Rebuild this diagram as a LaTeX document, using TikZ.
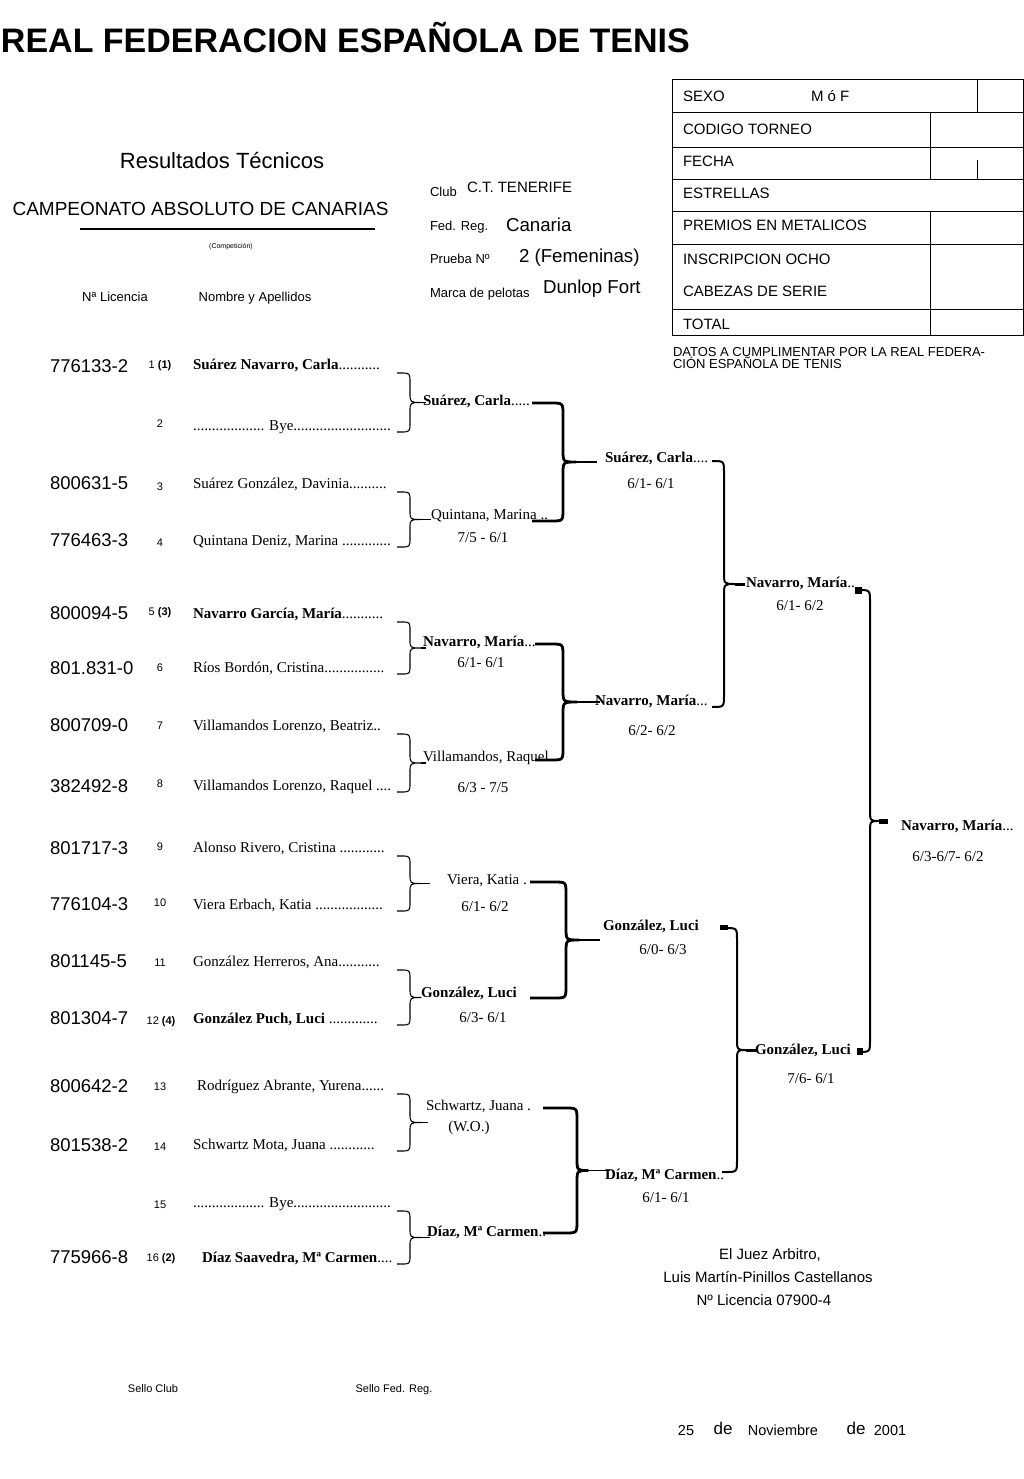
\documentclass[tikz,border=0pt]{standalone}
\usepackage{fontspec}
\setmainfont{Liberation Serif}
\newfontfamily\arial{Liberation Sans}
\newcommand\mybrace[7][]{%
\pgfmathsetmacro\mbm{(#5+#6)/2}%
\pgfmathsetmacro\mbc{min(12,(#6-#5)/6)}%
\draw[#1] (#2,#5) -- ({#3-\mbc},#5) .. controls (#3,#5) .. (#3,{#5+\mbc}) -- (#3,{\mbm-\mbc}) .. controls (#3,\mbm) .. (#4,\mbm) .. controls (#3,\mbm) .. (#3,{\mbm+\mbc}) -- (#3,{#6-\mbc}) .. controls (#3,#6) .. ({#3-\mbc},#6) -- (#2,#6);
\coordinate (#7) at (#4,\mbm);}
\tikzset{
 base/.style={inner sep=0pt, outer sep=0pt},
 sfL/.style={base, anchor=base west, font=\arial\fontsize{#1}{#1}\selectfont},
 sfC/.style={base, anchor=base, font=\arial\fontsize{#1}{#1}\selectfont},
 rmL/.style={base, anchor=base west, font=\fontsize{#1}{#1}\selectfont},
 rmC/.style={base, anchor=base, font=\fontsize{#1}{#1}\selectfont},
 brA/.style={line width=1.1pt, line join=round},
 brB/.style={line width=2.8pt, line join=round},
 brC/.style={line width=2pt, line join=round},
 tbl/.style={line width=1pt},
}
\begin{document}
\begin{tikzpicture}[x=1pt,y=-1pt]
\useasboundingbox[fill=white] (0,0) rectangle (1024,1479);
% title
\node[sfL=34, font=\arial\bfseries\fontsize{34}{34}\selectfont] (title) at (1,53) {REAL FEDERACION ESPAÑOLA DE TENIS};
% table
\draw[tbl] (672,80) rectangle (1023,335);
\foreach \yy in {113,148,180,212,245,309} \draw[tbl] (672,\yy) -- (1023,\yy);
\draw[tbl] (977,80) -- (977,113);
\draw[tbl] (930,113) -- (930,180);
\draw[tbl] (977,160) -- (977,180);
\draw[tbl] (930,212) -- (930,335);
\node[sfL=15] (t1) at (683,102) {SEXO};
\node[sfL=15] (t1b) at (811,102) {M ó F};
\node[sfL=15] (t2) at (683,135) {CODIGO TORNEO};
\node[sfL=15] (t3) at (683,167) {FECHA};
\node[sfL=15] (t4) at (683,199) {ESTRELLAS};
\node[sfL=15] (t5) at (683,231) {PREMIOS EN METALICOS};
\node[sfL=15] (t6) at (683,264) {INSCRIPCION OCHO};
\node[sfL=15] (t7) at (683,296) {CABEZAS DE SERIE};
\node[sfL=15] (t8) at (683,329) {TOTAL};
\node[sfL=13] (d1) at (673,356) {DATOS A CUMPLIMENTAR POR LA REAL FEDERA-};
\node[sfL=13] (d2) at (673,368.5) {CIÓN ESPAÑOLA DE TENIS};
% header left
\node[sfC=22] (res) at (222,169) {Resultados Técnicos};
\node[sfC=19] (camp) at (200.5,216) {CAMPEONATO ABSOLUTO DE CANARIAS};
\draw[line width=1.3pt] (80,229) -- (375,229);
\node[sfC=7] (comp) at (231,248.5) {(Competición)};
\node[sfC=13] (hl) at (115,301.5) {Nª Licencia};
\node[sfC=13] (hn) at (255,301.5) {Nombre y Apellidos};
% club block
\node[sfL=13] (c1) at (430,196.5) {Club};
\node[sfL=15] (c1v) at (467,193) {C.T. TENERIFE};
\node[sfL=13] (c2) at (430,230.5) {Fed. Reg.};
\node[sfL=18.7] (c2v) at (506,231.7) {Canaria};
\node[sfL=13] (c3) at (430,263.5) {Prueba Nº};
\node[sfL=18.7] (c3v) at (519,262.5) {2 (Femeninas)};
\node[sfL=13] (c4) at (430,297.5) {Marca de pelotas};
\node[sfL=18.7] (c4v) at (543,293.5) {Dunlop Fort};
% licences
\node[sfL=18.5] (l1) at (50,372.6) {776133-2};
\node[sfL=18.5] (l3) at (50,489.6) {800631-5};
\node[sfL=18.5] (l4) at (50,546.6) {776463-3};
\node[sfL=18.5] (l5) at (50,619.6) {800094-5};
\node[sfL=18.5] (l6) at (50,674.6) {801.831-0};
\node[sfL=18.5] (l7) at (50,731.6) {800709-0};
\node[sfL=18.5] (l8) at (50,792.6) {382492-8};
\node[sfL=18.5] (l9) at (50,854.6) {801717-3};
\node[sfL=18.5] (l10) at (50,910.6) {776104-3};
\node[sfL=18.5] (l11) at (50,967.6) {801145-5};
\node[sfL=18.5] (l12) at (50,1024.6) {801304-7};
\node[sfL=18.5] (l13) at (50,1092.6) {800642-2};
\node[sfL=18.5] (l14) at (50,1151.6) {801538-2};
\node[sfL=18.5] (l16) at (50,1263.6) {775966-8};
% seeds
\node[sfC=11] (s1n) at (160,368) {1 \textbf{(1)}};
\node[sfC=11] (s2n) at (160,427) {2};
\node[sfC=11] (s3n) at (160,490) {3};
\node[sfC=11] (s4n) at (160,546) {4};
\node[sfC=11] (s5n) at (160,615) {5 \textbf{(3)}};
\node[sfC=11] (s6n) at (160,671) {6};
\node[sfC=11] (s7n) at (160,729) {7};
\node[sfC=11] (s8n) at (160,787) {8};
\node[sfC=11] (s9n) at (160,850) {9};
\node[sfC=11] (s10n) at (160,906) {10};
\node[sfC=11] (s11n) at (160,966) {11};
\node[sfC=11] (s12n) at (161,1024) {12 \textbf{(4)}};
\node[sfC=11] (s13n) at (160,1090) {13};
\node[sfC=11] (s14n) at (160,1150) {14};
\node[sfC=11] (s15n) at (160,1208) {15};
\node[sfC=11] (s16n) at (161,1261) {16 \textbf{(2)}};
% names
\node[rmL=15] (n1) at (193,369) {\textbf{Suárez Navarro, Carla}...........};
\node[rmL=15] (n2) at (193,430) {................... Bye..........................};
\node[rmL=15] (n3) at (193,488) {Suárez González, Davinia..........};
\node[rmL=15] (n4) at (193,545) {Quintana Deniz, Marina .............};
\node[rmL=15] (n5) at (193,618) {\textbf{Navarro García, María}...........};
\node[rmL=15] (n6) at (193,672) {Ríos Bordón, Cristina................};
\node[rmL=15] (n7) at (193,730) {Villamandos Lorenzo, Beatriz..};
\node[rmL=15] (n8) at (193,790) {Villamandos Lorenzo, Raquel ....};
\node[rmL=15] (n9) at (193,852) {Alonso Rivero, Cristina ............};
\node[rmL=15] (n10) at (193,909) {Viera Erbach, Katia ..................};
\node[rmL=15] (n11) at (193,966) {González Herreros, Ana...........};
\node[rmL=15] (n12) at (193,1023) {\textbf{González Puch, Luci} .............};
\node[rmL=15] (n13) at (197,1090) {Rodríguez Abrante, Yurena......};
\node[rmL=15] (n14) at (193,1149) {Schwartz Mota, Juana ............};
\node[rmL=15] (n15) at (193,1207) {................... Bye..........................};
\node[rmL=15] (n16) at (202,1262) {\textbf{Díaz Saavedra, Mª Carmen}....};
% round 2 winners
\node[rmL=15] (w1) at (423,405) {\textbf{Suárez, Carla}.....};
\node[rmL=15] (w2) at (431,519) {Quintana, Marina ..};
\node[rmL=15] (w3) at (423,646) {\textbf{Navarro, María}...};
\node[rmL=15] (w4) at (423,761) {Villamandos, Raquel};
\node[rmL=15] (w5) at (447,884) {Viera, Katia .};
\node[rmL=15] (w6) at (421,997) {\textbf{González, Luci}};
\node[rmL=15] (w7) at (426,1110) {Schwartz, Juana .};
\node[rmL=15] (w8) at (427,1236) {\textbf{Díaz, Mª Carmen}..};
\node[rmC=15] (sc2) at (483,542) {7/5 - 6/1};
\node[rmC=15] (sc3) at (481,667) {6/1- 6/1};
\node[rmC=15] (sc4) at (483,792) {6/3 - 7/5};
\node[rmC=15] (sc5) at (485,911) {6/1- 6/2};
\node[rmC=15] (sc6) at (483,1022) {6/3- 6/1};
\node[rmC=15] (sc7) at (469,1131) {(W.O.)};
% round 1 braces
\mybrace[brA]{397}{410}{421}{373}{432}{b1}
\mybrace[brA]{397}{410}{421}{492}{547}{b2}
\mybrace[brA]{397}{410}{421}{622}{674}{b3}
\mybrace[brA]{397}{410}{421}{734}{792}{b4}
\mybrace[brA]{397}{410}{421}{856}{911}{b5}
\mybrace[brA]{397}{410}{421}{970}{1025}{b6}
\mybrace[brA]{397}{410}{421}{1094}{1151}{b7}
\mybrace[brA]{397}{410}{421}{1211}{1264}{b8}
\draw[brA] (b1) -- ([xshift=3pt]w1.west |- b1);
\draw[brA] (b2) -- (w2.west |- b2);
\draw[brA] (b3) -- ([xshift=3pt]w3.west |- b3);
\draw[brA] (b4) -- ([xshift=3pt]w4.west |- b4);
\draw[brA] (b5) -- ([xshift=-17pt]w5.west |- b5);
\draw[brA] (b6) -- (w6.west |- b6);
\draw[brA] (b7) -- ([xshift=2pt]w7.west |- b7);
\draw[brA] (b8) -- ([xshift=3pt]w8.west |- b8);
% quarter-final winners
\node[rmL=15] (q1) at (605,462) {\textbf{Suárez, Carla}....};
\node[rmL=15] (q2) at (595,705) {\textbf{Navarro, María}...};
\node[rmL=15] (q3) at (603,930) {\textbf{González, Luci}};
\node[rmL=15] (q4) at (605,1179) {\textbf{Díaz, Mª Carmen}..};
\node[rmC=15] (qs1) at (651,488) {6/1- 6/1};
\node[rmC=15] (qs2) at (652,735) {6/2- 6/2};
\node[rmC=15] (qs3) at (663,954) {6/0- 6/3};
\node[rmC=15] (qs4) at (666,1202) {6/1- 6/1};
\mybrace[brB]{532}{563}{576}{403}{521}{c1t}
\mybrace[brB]{535}{563}{577}{644}{760}{c2t}
\mybrace[brB]{530}{566}{579}{882}{998}{c3t}
\mybrace[brB]{543}{577}{588}{1108}{1233}{c4t}
\draw[line width=1.6pt] (c1t) -- ([xshift=-8pt]q1.west |- c1t);
\draw[line width=1.6pt] (c2t) -- ([xshift=5pt]q2.west |- c2t);
\draw[line width=1.6pt] (c3t) -- ([xshift=-3pt]q3.west |- c3t);
\draw[line width=1.6pt] (c4t) -- ([xshift=5pt]q4.west |- c4t);
% semi-final winners
\node[rmL=15] (f1) at (746,587) {\textbf{Navarro, María}..};
\node[rmL=15] (f2) at (755,1054) {\textbf{González, Luci}};
\node[rmC=15] (fs1) at (800,610) {6/1- 6/2};
\node[rmC=15] (fs2) at (811,1083) {7/6- 6/1};
\mybrace[brC]{712}{724}{735}{461}{707}{d1t}
\mybrace[brC]{722}{737}{746}{928}{1172}{d2t}
\draw[line width=3pt] (d1t) -- ([xshift=-1pt]f1.west |- d1t);
\draw[line width=3pt] (d2t) -- ([xshift=2pt]f2.west |- d2t);
\fill (720,925) rectangle (728,930);
% final
\node[rmL=15] (champ) at (901,830) {\textbf{Navarro, María}...};
\node[rmC=15] (champs) at (948,861) {6/3-6/7- 6/2};
\mybrace[brC]{857}{870}{879}{590}{1052}{e1t}
\draw[line width=5pt] (e1t) -- ([xshift=-13pt]champ.west |- e1t);
\fill (855,587) rectangle (862,594);
\fill (857,1048) rectangle (863,1055);
% referee and footer
\node[sfC=15] (j1) at (770,1259.5) {El Juez Arbitro,};
\node[sfC=15] (j2) at (768,1282.5) {Luis Martín-Pinillos Castellanos};
\node[sfC=15] (j3) at (764,1305.5) {Nº Licencia 07900-4};
\node[sfC=11] (sc) at (153,1392) {Sello Club};
\node[sfC=11] (sf) at (394,1392) {Sello Fed. Reg.};
\node[sfC=14.5] (dt1) at (686,1435) {25};
\node[sfC=17] (dt2) at (723,1434) {de};
\node[sfC=14.5] (dt3) at (783,1435) {Noviembre};
\node[sfC=17] (dt4) at (856,1434) {de};
\node[sfC=14.5] (dt5) at (890,1435) {2001};
\end{tikzpicture}
\end{document}
